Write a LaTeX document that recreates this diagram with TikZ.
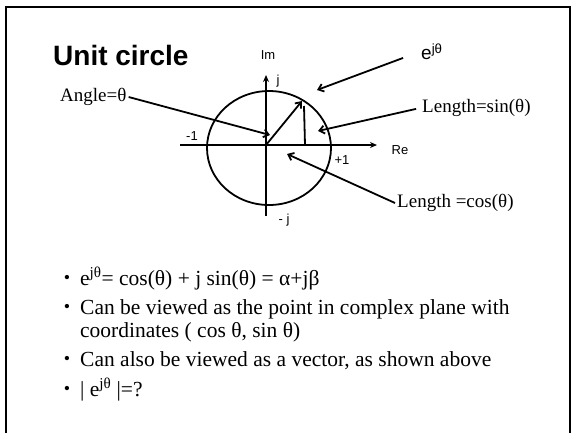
\documentclass[tikz,border=0pt]{standalone}
\usepackage{fontspec}
\setmainfont{Liberation Serif}
\setsansfont{Liberation Sans}
\usepackage{tikz}
\usetikzlibrary{arrows.meta,positioning,calc}

\begin{document}
\begin{tikzpicture}[
    x=1pt, y=-1pt,
    line/.style={line width=1.8pt},
    arrow/.style={line, -{Straight Barb[length=5pt,width=8pt]}},
    axis/.style={line, -{Stealth[length=7pt,width=6pt]}},
    title/.style={font=\fontsize{28}{32}\selectfont\sffamily\bfseries, inner sep=0pt},
    axlabel/.style={font=\fontsize{13}{15}\selectfont\sffamily, inner sep=0pt},
    note/.style={font=\fontsize{19}{21}\selectfont, inner sep=2pt},
    bullet/.style={font=\fontsize{18}{20}\selectfont, inner sep=0pt},
    item/.style={font=\fontsize{21.5}{23}\selectfont, inner sep=0pt, anchor=base west}
]
\useasboundingbox (0,0) rectangle (575,432);

% Slide frame
\draw[line width=2pt] (6,440) -- (6,7) -- (570,7) -- (570,440);

% Title
\node[title, anchor=base west] (title) at (53,65) {Unit circle};

% Axes and unit circle
\coordinate (o) at (266,145);
\coordinate (xl) at (180,145);
\coordinate (xr) at (377,145);
\coordinate (yt) at (266,75);
\coordinate (yb) at (266,216);
\draw[line] (269,148) ellipse [x radius=62, y radius=57];
\draw[axis] (xl) -- (xr);
\draw[axis] (yb) -- (yt);

\node[axlabel] (imlab) at (268,55) {Im};
\node[axlabel] (jlab) at (278,81) {j};
\node[axlabel] (mjlab) at (284,220) {- j};
\node[axlabel] (m1lab) at (192,136) {-1};
\node[axlabel] (p1lab) at (342,160) {+1};
\node[axlabel] (relab) at (400,150) {Re};

% Vector and its sine component
\coordinate (p) at (302,101);
\coordinate (ptop) at (304,106);
\coordinate (pfoot) at (305,145);
\draw[arrow] (o) -- (p);
\draw[line] (ptop) -- (pfoot);

% Annotations
\coordinate (angpt) at (270,135);
\coordinate (ejtpt) at (317,90);
\coordinate (sinpt) at (318,131);
\coordinate (cospt) at (287,154);

\node[note, anchor=west] (angle) at (58,97) {Angle=θ};
\node[note, font=\fontsize{19}{21}\selectfont\sffamily, anchor=west] (ejt) at (419,52) {e\textsuperscript{jθ}};
\node[note, anchor=west] (sinlab) at (420,108) {Length=sin(θ)};
\node[note, anchor=west] (coslab) at (395,203) {Length =cos(θ)};

\draw[arrow] (angle.east) -- (angpt);
\draw[arrow, shorten <=17pt] (ejt.west) -- (ejtpt);
\draw[arrow, shorten <=4pt] (sinlab.west) -- (sinpt);
\draw[arrow] (coslab.west) -- (cospt);

% Bullet list
\node[bullet] (d1) at (67,279) {•};
\node[bullet] (d2) at (67,308) {•};
\node[bullet] (d3) at (67,360) {•};
\node[bullet] (d4) at (67,390) {•};

\node[item] (t1) at (80,285) {e\textsuperscript{jθ}= cos(θ) + j sin(θ) = α+jβ};
\node[item] (t2) at (80,314) {Can be viewed as the point in complex plane with};
\node[item] (t2b) at (80,337) {coordinates ( cos θ, sin θ)};
\node[item] (t3) at (80,366) {Can also be viewed as a vector, as shown above};
\node[item] (t4) at (80,396) {| e\textsuperscript{jθ} |=?};

\end{tikzpicture}
\end{document}
